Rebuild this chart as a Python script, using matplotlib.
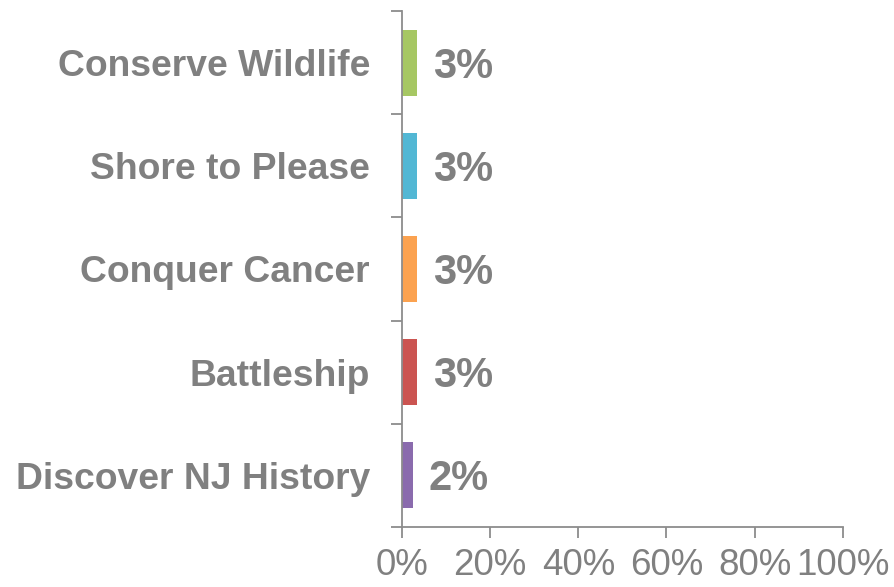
import matplotlib.pyplot as plt
import matplotlib.ticker as mticker

plt.rcParams['font.family'] = ['Liberation Sans', 'DejaVu Sans']

# Data, top to bottom as shown
categories = ['Conserve Wildlife', 'Shore to Please', 'Conquer Cancer',
              'Battleship', 'Discover NJ History']
values = [3.3, 3.3, 3.3, 3.3, 2.4]
value_labels = ['3%', '3%', '3%', '3%', '2%']
colors = ['#a6c763', '#52b7d4', '#fba250', '#cb5451', '#8a6bad']
x_ticks = [0, 20, 40, 60, 80, 100]

text_gray = '#808080'
axis_gray = '#8c8c8c'

fig = plt.figure(figsize=(8.94, 5.87), dpi=100)
ax = fig.add_axes([0.4497, 0.1022, 0.4930, 0.8791])

ypos = list(range(len(categories)))[::-1]
ax.barh(ypos, values, height=0.64, color=colors)

# value labels just right of each bar
for y, v, lab in zip(ypos, values, value_labels):
    ax.annotate(lab, xy=(v, y), xytext=(16, -4), textcoords='offset pixels',
                ha='left', va='center', fontsize=30, fontweight='bold',
                color=text_gray)

ax.set_xlim(0, 100)
ax.set_ylim(-0.5, len(categories) - 0.5)

ax.set_xticks(x_ticks)
ax.xaxis.set_major_formatter(mticker.FuncFormatter(lambda v, p: f'{v:.0f}%'))
ax.tick_params(axis='x', length=8, width=1.3, color=axis_gray,
               labelsize=26.5, labelcolor=text_gray, pad=7)

# category labels at centers, tick marks at the band boundaries
ax.set_yticks(ypos)
ax.set_yticklabels(categories)
ax.set_yticks([i - 0.5 for i in range(len(categories) + 1)], minor=True)
ax.tick_params(axis='y', which='major', length=0, pad=23,
               labelsize=26.8, labelcolor=text_gray)
ax.tick_params(axis='y', which='minor', length=8, width=1.3, color=axis_gray)
for t in ax.get_yticklabels():
    t.set_fontweight('bold')

for s in ['top', 'right']:
    ax.spines[s].set_visible(False)
for s in ['left', 'bottom']:
    ax.spines[s].set_color(axis_gray)
    ax.spines[s].set_linewidth(1.3)

fig.savefig('out.png', dpi=100)
